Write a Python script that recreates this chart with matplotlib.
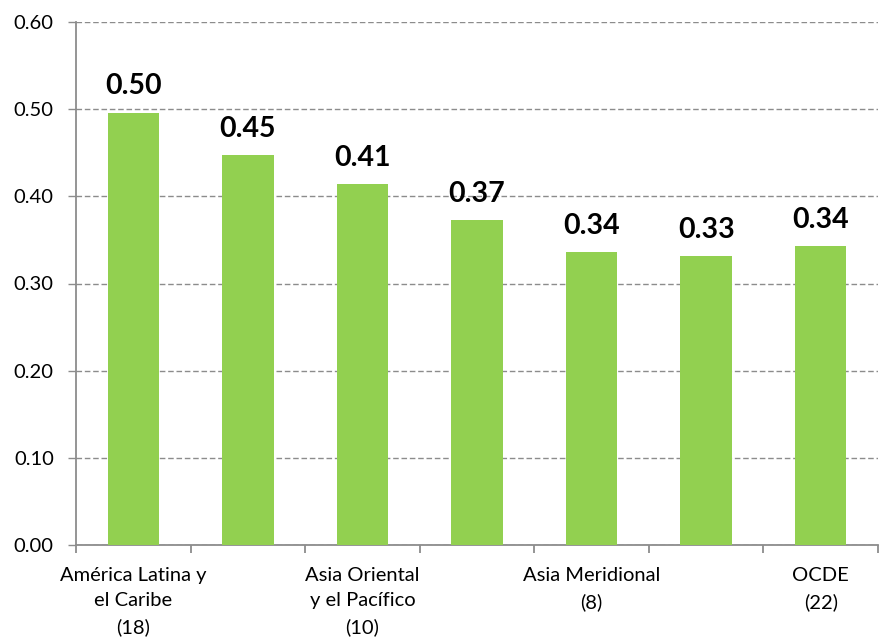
import matplotlib.pyplot as plt
import numpy as np

# regional averages (number of countries in parentheses)
regions = ["América Latina y\nel Caribe\n(18)", "", "Asia Oriental\ny el Pacífico\n(10)", "",
           "Asia Meridional\n(8)", "", "OCDE\n(22)"]
values = [0.496, 0.447, 0.414, 0.373, 0.336, 0.331, 0.343]
yticks = [0.0, 0.1, 0.2, 0.3, 0.4, 0.5, 0.6]

plt.rcParams['font.family'] = ['Lato', 'DejaVu Sans']

fig = plt.figure(figsize=(8.83, 6.43), dpi=100)
ax = fig.add_axes([76 / 883, 1 - 545 / 643, (878 - 76) / 883, (545 - 22) / 643])

x = np.arange(len(values))
bars = ax.bar(x, values, width=0.45, color="#92D050", zorder=3)

for xi, v in zip(x, values):
    ax.annotate(f"{v:.2f}", (xi, v), xytext=(0, 9.5), textcoords="offset points",
                ha="center", va="bottom", fontsize=20.5, fontweight="bold", color="black")

ax.set_xlim(-0.5, len(values) - 0.5)
ax.set_ylim(0, 0.6)
ax.set_yticks(yticks)
ax.set_yticklabels([f"{t:.2f}" for t in yticks], fontsize=14.5)
ax.yaxis.grid(True, linestyle=(0, (4, 2)), color="#8c8c8c", linewidth=1, zorder=0)

# tick marks between categories, labels under every other bar
ax.set_xticks(np.arange(-0.5, len(values), 1.0))
ax.set_xticklabels([])
ax.set_xticks(x, minor=True)
ax.set_xticklabels(regions, minor=True, fontsize=14.5, linespacing=1.58, va="top")
ax.tick_params(axis="x", which="minor", length=0, pad=16)
ax.tick_params(axis="x", which="major", length=6, color="#8c8c8c", width=1.3)
ax.tick_params(axis="y", length=6, color="#8c8c8c", width=1, pad=10)

for side in ["top", "right"]:
    ax.spines[side].set_visible(False)
for side in ["left", "bottom"]:
    ax.spines[side].set_color("#8c8c8c")
    ax.spines[side].set_linewidth(1.3)

fig.savefig("out.png", dpi=100)
